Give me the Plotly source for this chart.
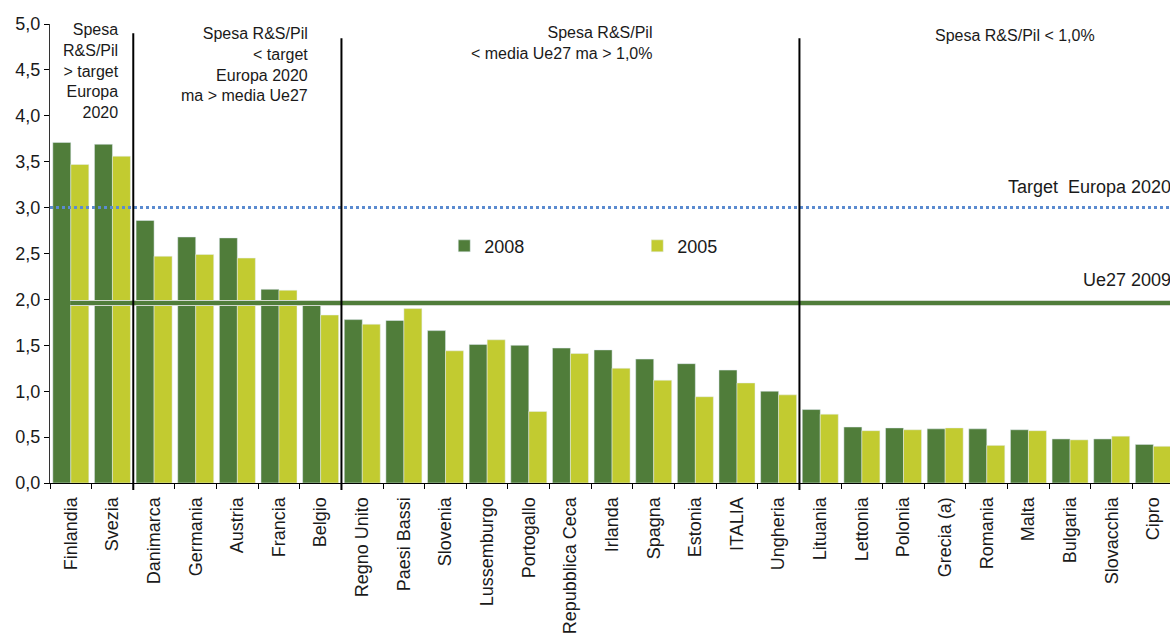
import plotly.graph_objects as go

# Spesa R&S / Pil per paese (%)
countries = ["Finlandia", "Svezia", "Danimarca", "Germania", "Austria", "Francia", "Belgio",
             "Regno Unito", "Paesi Bassi", "Slovenia", "Lussemburgo", "Portogallo",
             "Repubblica Ceca", "Irlanda", "Spagna", "Estonia", "ITALIA", "Ungheria",
             "Lituania", "Lettonia", "Polonia", "Grecia (a)", "Romania", "Malta",
             "Bulgaria", "Slovacchia", "Cipro"]
val_2008 = [3.71, 3.69, 2.86, 2.68, 2.67, 2.11, 1.97,
            1.78, 1.77, 1.66, 1.51, 1.50,
            1.47, 1.45, 1.35, 1.30, 1.23, 1.00,
            0.80, 0.61, 0.60, 0.59, 0.59, 0.58,
            0.48, 0.48, 0.42]
val_2005 = [3.47, 3.56, 2.47, 2.49, 2.45, 2.10, 1.83,
            1.73, 1.90, 1.44, 1.56, 0.78,
            1.41, 1.25, 1.12, 0.94, 1.09, 0.96,
            0.75, 0.57, 0.58, 0.60, 0.41, 0.57,
            0.47, 0.51, 0.40]

target_2020 = 3.0
ue27_2009 = 1.96

# numero di paesi per gruppo (da sinistra)
group_sizes = [2, 5, 11, 9]
group_labels = ["Spesa<br>R&S/Pil<br>> target<br>Europa<br>2020",
                "Spesa R&S/Pil<br>< target<br>Europa 2020<br>ma > media Ue27",
                "Spesa R&S/Pil<br>< media Ue27 ma > 1,0%",
                "Spesa R&S/Pil < 1,0%"]

dark_green = "#507D3A"
light_green = "#C2CB30"
font_family = "Liberation Sans, Arial, sans-serif"

fig = go.Figure()
fig.add_trace(go.Bar(x=countries, y=val_2008, name="2008", marker_color=dark_green))
fig.add_trace(go.Bar(x=countries, y=val_2005, name="2005", marker_color=light_green))

shapes = []
# linee di riferimento
shapes.append(dict(type="line", xref="paper", yref="y", x0=0, x1=1,
                   y0=target_2020, y1=target_2020, layer="above",
                   line=dict(color="#5B8BD0", width=3, dash="dot")))
shapes.append(dict(type="line", xref="paper", yref="y", x0=0.018, x1=1,
                   y0=ue27_2009, y1=ue27_2009, layer="above",
                   line=dict(color="#D3D9CF", width=6)))
shapes.append(dict(type="line", xref="paper", yref="y", x0=0.018, x1=1,
                   y0=ue27_2009, y1=ue27_2009, layer="above",
                   line=dict(color=dark_green, width=4)))

# separatori verticali tra i gruppi
pos = -0.5
tops = [0.98, 0.969, 0.969]
for i, n in enumerate(group_sizes[:-1]):
    pos += n
    shapes.append(dict(type="line", xref="x", yref="paper", x0=pos, x1=pos,
                       y0=-0.015, y1=tops[i], layer="above",
                       line=dict(color="black", width=2)))

annotations = [
    dict(text=group_labels[0], x=0.0634, y=1.0, yshift=5, xanchor="right", yanchor="top",
         align="right", font=dict(size=16)),
    dict(text=group_labels[1], x=0.232, y=0.996, yshift=3, xanchor="right", yanchor="top",
         align="right", font=dict(size=16)),
    dict(text=group_labels[2], x=0.539, y=0.998, yshift=3, xanchor="right", yanchor="top",
         align="right", font=dict(size=16)),
    dict(text=group_labels[3], x=0.8616, y=0.975, xanchor="center", yanchor="middle",
         font=dict(size=16)),
    dict(text="Target\u00a0 Europa 2020", x=1.0, y=0.645, xanchor="right", yanchor="middle",
         xshift=3, font=dict(size=18)),
    dict(text="Ue27 2009", x=1.0, y=0.442, xanchor="right", yanchor="middle",
         xshift=3, font=dict(size=18)),
]
for a in annotations:
    a.update(xref="paper", yref="paper", showarrow=False)

fig.update_layout(
    width=1170, height=633,
    margin=dict(l=50, r=0, t=24, b=150),
    paper_bgcolor="white", plot_bgcolor="white",
    font=dict(family=font_family, size=16, color="#1a1a1a"),
    separators=",.",
    barmode="group", bargap=0.135, bargroupgap=0,
    shapes=shapes, annotations=annotations,
    legend=dict(orientation="h", x=0.352, y=0.516, xanchor="left", yanchor="middle",
                entrywidth=148, entrywidthmode="pixels", itemwidth=30,
                font=dict(size=18), bgcolor="rgba(0,0,0,0)", traceorder="normal"),
    showlegend=True,
)
fig.update_xaxes(range=[-0.5, 26.4], tickangle=-90, tickson="boundaries",
                 ticks="outside", ticklen=5, tickcolor="black", ticklabelstandoff=6,
                 showline=True, linecolor="black", linewidth=1,
                 tickfont=dict(size=18), showgrid=False)
fig.update_yaxes(range=[0, 5], dtick=0.5, tickformat=".1f", ticks="outside", ticklen=5,
                 tickcolor="black", showline=True, linecolor="#333", linewidth=1,
                 showgrid=False, zeroline=False, tickfont=dict(size=18))

fig.write_html("out.html", config={"displayModeBar": False},
               post_script="document.body.style.margin='0';")
